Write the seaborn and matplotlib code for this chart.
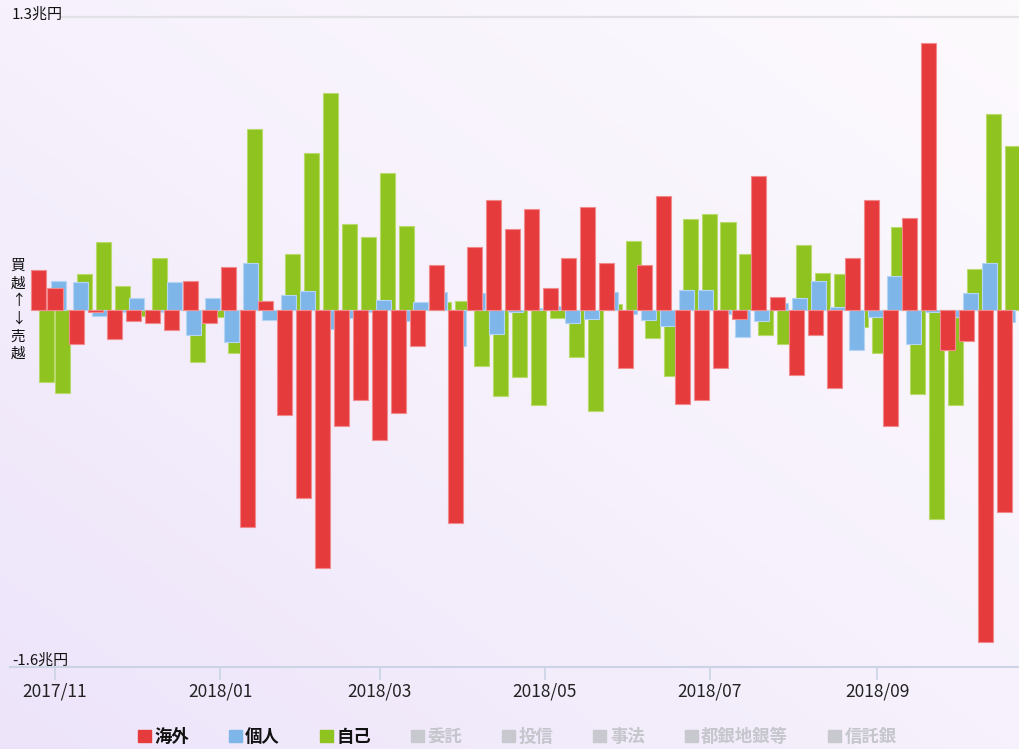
import numpy as np
import pandas as pd
import matplotlib
matplotlib.use("Agg")
import matplotlib.pyplot as plt
import matplotlib.dates as mdates
from matplotlib.patches import Patch
from matplotlib.colors import LinearSegmentedColormap
import seaborn as sns

# 週次 投資部門別 売買差額 (兆円)
weeks = ["2017-10-27", "2017-11-02"] + [d.strftime("%Y-%m-%d") for d in pd.date_range("2017-11-10", periods=50, freq="7D")]

kaigai = [0.18, 0.10, -0.15, -0.01, -0.13, -0.05, -0.06, -0.09, 0.13, -0.06,
          0.19, -0.97, 0.04, -0.47, -0.84, -1.15, -0.52, -0.40, -0.58, -0.46,
          -0.16, 0.20, -0.95, 0.28, 0.49, 0.36, 0.45, 0.10, 0.23, 0.46,
          0.21, -0.26, 0.20, 0.51, -0.42, -0.40, -0.26, -0.04, 0.60, 0.06,
          -0.29, -0.11, -0.35, 0.23, 0.49, -0.52, 0.41, 1.19, -0.18, -0.14,
          -1.48, -0.90]
kojin = [0.045, 0.13, 0.125, -0.025, -0.01, 0.055, -0.01, 0.125, -0.11, 0.055,
         -0.145, 0.21, -0.045, 0.065, 0.085, -0.085, -0.035, -0.01, 0.045, -0.05,
         0.035, 0.08, -0.16, 0.075, -0.105, -0.01, 0.01, 0.02, -0.06, -0.04,
         0.08, -0.02, -0.045, -0.07, 0.09, 0.09, -0.02, -0.12, -0.05, 0.03,
         0.055, 0.13, 0.015, -0.18, -0.03, 0.15, -0.15, -0.01, -0.03, 0.075,
         0.21, -0.055]
jiko = [-0.32, -0.37, 0.16, 0.305, 0.105, -0.025, 0.23, 0.03, -0.23, -0.03,
        -0.19, 0.81, -0.03, 0.25, 0.70, 0.97, 0.385, 0.325, 0.61, 0.375,
        0.02, 0.035, 0.04, -0.25, -0.385, -0.30, -0.425, -0.035, -0.21, -0.45,
        0.025, 0.31, -0.125, -0.295, 0.405, 0.43, 0.395, 0.25, -0.11, -0.15,
        0.29, 0.165, 0.16, -0.075, -0.19, 0.37, -0.375, -0.935, -0.425, 0.185,
        0.875, 0.73]

series = ["海外", "個人", "自己"]
inactive = ["委託", "投信", "事法", "都銀地銀等", "信託銀"]
colors = {"海外": "#E63B3D", "個人": "#7EB6EA", "自己": "#8FC31F"}

sns.set_style("white")
plt.rcParams['font.family'] = ['Noto Sans CJK JP', 'DejaVu Sans']

fig = plt.figure(figsize=(10.19, 7.49), dpi=100)

# 背景グラデーション
bg = fig.add_axes([0, 0, 1, 1])
gx, gy = np.meshgrid(np.linspace(0, 1, 200), np.linspace(0, 1, 200))
grad = (gx + (1 - gy)) / 2
cmap = LinearSegmentedColormap.from_list("bg", ["#EDE4FA", "#F6F1FC", "#FDFAFE"])
bg.imshow(grad, cmap=cmap, aspect="auto", extent=[0, 1, 0, 1], origin="upper")
bg.axis("off")

ax = fig.add_axes([10 / 1019, (749 - 666.7) / 749, 1009 / 1019, 650 / 749])
ax.set_facecolor("none")

x0 = mdates.date2num(pd.to_datetime(weeks))
offset = {"自己": 1.8, "個人": 0.3, "海外": -1.0}
values = {"海外": kaigai, "個人": kojin, "自己": jiko}
edge = {"海外": "#F28A8C", "個人": "#B5D5F4", "自己": "#B9DB6E"}

for name in ["自己", "個人", "海外"]:
    df = pd.DataFrame({"x": x0 + offset[name], "v": values[name]})
    sns.barplot(data=df, x="x", y="v", native_scale=True, width=5.55 / 6,
                color=colors[name], saturation=1, errorbar=None, ax=ax,
                edgecolor=edge[name], linewidth=0.8)

nov1 = mdates.date2num(pd.Timestamp("2017-11-01"))
ax.set_xlim(nov1 - 45 / 2.705, nov1 + 964 / 2.705)
ax.set_ylim(-356.7 / 224, 293.3 / 224)

ax.xaxis.set_major_locator(mdates.MonthLocator(bymonth=[1, 3, 5, 7, 9, 11]))
ax.xaxis.set_major_formatter(mdates.DateFormatter("%Y/%m"))
ax.tick_params(axis="x", direction="out", length=9.5, width=1.2, color="#CAD4E4",
               labelsize=12.5, labelcolor="#222222", pad=2, bottom=True)
ax.set_yticks([])
ax.set_xlabel("")
ax.set_ylabel("")
for s in ["top", "left", "right"]:
    ax.spines[s].set_visible(False)
ax.spines["bottom"].set_color("#CAD4E4")
ax.spines["bottom"].set_linewidth(1.5)

ax.axhline(293.3 / 224, xmin=52 / 1009, color="#E2E2E6", lw=1.6, clip_on=False)

fig.text(12 / 1019, 1 - 15 / 749, "1.3兆円", fontsize=10.8, va="center", ha="left", color="#111111")
fig.text(12 / 1019, 1 - 661 / 749, "-1.6兆円", fontsize=10.8, va="center", ha="left", color="#111111")
fig.text(18 / 1019, 1 - 310 / 749, "買\n越\n↑\n↓\n売\n越", fontsize=10.5, va="center", ha="center",
         linespacing=1.32, color="#111111")

handles = [Patch(color=colors[n]) for n in series] + [Patch(color="#C8C8CF") for n in inactive]
leg = fig.legend(handles, series + inactive, loc="center", bbox_to_anchor=(517 / 1019, 1 - 737 / 749),
                 ncol=8, frameon=False, handlelength=0.75, handleheight=0.75, handletextpad=0.2,
                 columnspacing=2.3, prop={"size": 12.5, "weight": "bold"})
for i, t in enumerate(leg.get_texts()):
    t.set_color("#111111" if i < 3 else "#C5C5CC")

fig.savefig("out.png", dpi=100)
